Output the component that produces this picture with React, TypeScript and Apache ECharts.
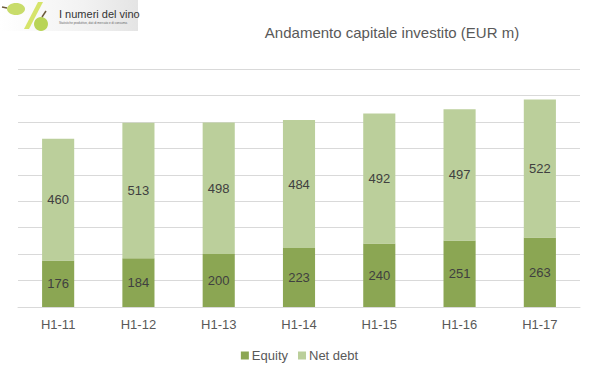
import React, { useEffect, useRef } from "react";
import * as echarts from "echarts";

const categories = ["H1-11", "H1-12", "H1-13", "H1-14", "H1-15", "H1-16", "H1-17"];
const equity = [176, 184, 200, 223, 240, 251, 263];
const netDebt = [460, 513, 498, 484, 492, 497, 522];

export default function App() {
  const ref = useRef<HTMLDivElement>(null);
  useEffect(() => {
    const chart = echarts.init(ref.current!, undefined, { renderer: "svg" });
    const font = "'Liberation Sans', Arial, sans-serif";
    chart.setOption({
      animation: false,
      backgroundColor: "#ffffff",
      title: {
        text: "Andamento capitale investito (EUR m)",
        left: 387,
        textAlign: "center",
        top: 20,
        textStyle: { fontFamily: font, fontSize: 15, fontWeight: "normal", color: "#595959" },
      },
      legend: {
        bottom: 11,
        left: "center",
        itemWidth: 8,
        itemHeight: 8,
        itemGap: 10,
        icon: "rect",
        textStyle: { fontFamily: font, fontSize: 13, color: "#595959", padding: [0, 0, 0, -2] },
        data: ["Equity", "Net debt"],
      },
      grid: { left: 18, right: 19, top: 69, bottom: 71, containLabel: false },
      xAxis: {
        type: "category",
        data: categories,
        axisLine: { lineStyle: { color: "#d9d9d9" } },
        axisTick: { show: false },
        axisLabel: { fontFamily: font, fontSize: 13, color: "#595959", margin: 11 },
      },
      yAxis: {
        type: "value",
        min: 0,
        max: 900,
        interval: 100,
        axisLabel: { show: false },
        axisLine: { show: false },
        axisTick: { show: false },
        splitLine: { lineStyle: { color: "#d9d9d9" } },
      },
      series: [
        {
          name: "Equity",
          type: "bar",
          stack: "total",
          data: equity,
          barWidth: "40%",
          itemStyle: { color: "#8BA653" },
          label: { show: true, position: "inside", fontFamily: font, fontSize: 13, color: "#404040" },
        },
        {
          name: "Net debt",
          type: "bar",
          stack: "total",
          data: netDebt,
          barWidth: "40%",
          itemStyle: { color: "#BBCF9B" },
          label: { show: true, position: "inside", fontFamily: font, fontSize: 13, color: "#404040" },
        },
      ],
      graphic: [
        {
          type: "rect",
          left: 0,
          top: 0,
          shape: { width: 138, height: 31 },
          style: {
            fill: new echarts.graphic.LinearGradient(0, 0, 1, 0, [
              { offset: 0, color: "#ffffff" },
              { offset: 0.6, color: "#f2f2f2" },
              { offset: 1, color: "#e4e4e4" },
            ]),
          },
          z: 10,
        },
        {
          type: "polygon",
          shape: { points: [[24, 29], [29, 29], [43, 2], [38, 2]] },
          style: { fill: "#d6e46a" },
          z: 11,
        },
        {
          type: "ellipse",
          shape: { cx: 16, cy: 9, rx: 9, ry: 6 },
          style: { fill: "#c8dc6a" },
          z: 12,
        },
        {
          type: "circle",
          shape: { cx: 41, cy: 24, r: 7 },
          style: { fill: "#b8d456" },
          z: 12,
        },
        {
          type: "line",
          shape: { x1: 42, y1: 17, x2: 46, y2: 11 },
          style: { stroke: "#6b5a3a", lineWidth: 1.5 },
          z: 12,
        },
        {
          type: "line",
          shape: { x1: 7, y1: 8, x2: 2, y2: 7 },
          style: { stroke: "#6b5a3a", lineWidth: 1.5 },
          z: 12,
        },
        {
          type: "text",
          left: 59,
          top: 8,
          style: { text: "I numeri del vino", fontFamily: font, fontSize: 11, fill: "#333333" },
          z: 12,
        },
        {
          type: "text",
          left: 59,
          top: 21,
          style: {
            text: "Statistiche produttive, dati di mercato e di consumo.",
            fontFamily: font,
            fontSize: 3,
            fill: "#666666",
          },
          z: 12,
        },
      ],
    });
    return () => chart.dispose();
  }, []);
  return <div ref={ref} style={{ width: 599, height: 378, position: "fixed", left: 0, top: 0 }} />;
}
